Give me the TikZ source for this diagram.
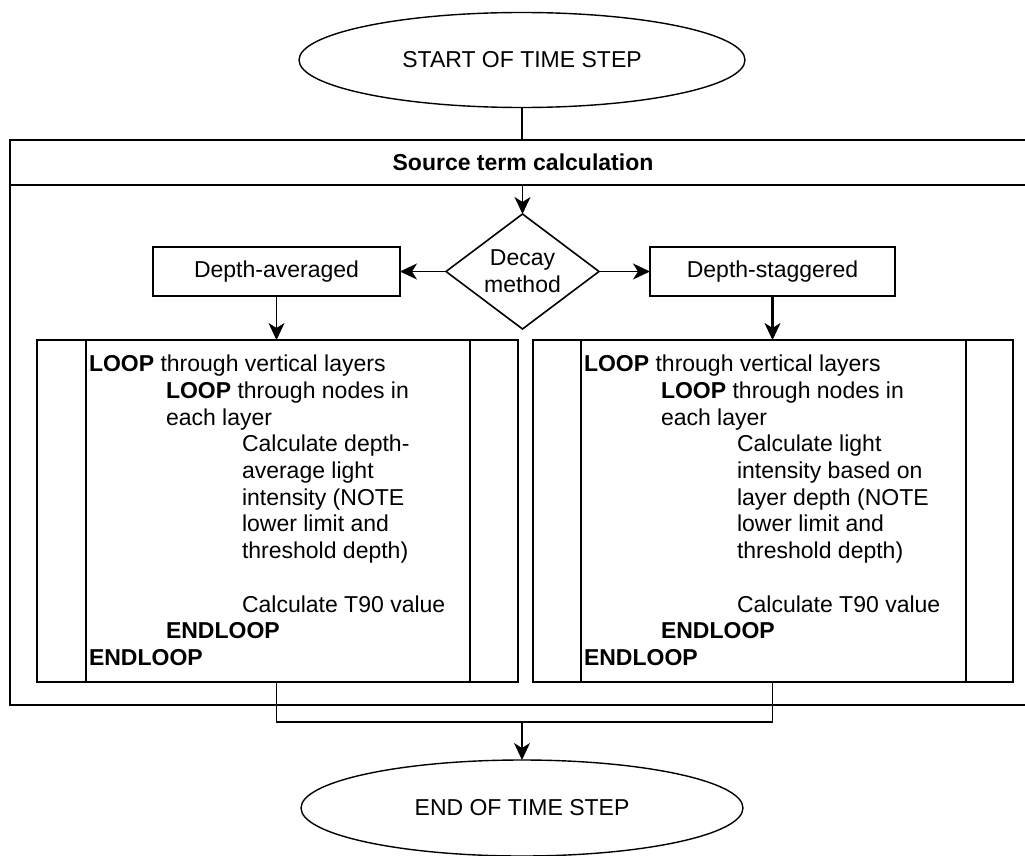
\documentclass[tikz,border=0pt]{standalone}
\usepackage{fontspec}
\setmainfont{Liberation Sans}
\usetikzlibrary{shapes.geometric,arrows.meta}

\tikzset{
  every node/.style={inner sep=0pt, outer sep=0pt},
  box/.style={draw, line width=1.8pt, rectangle, font=\fontsize{23}{27}\selectfont},
  term/.style={draw, line width=1.4pt, ellipse, font=\fontsize{23}{27}\selectfont},
  decision/.style={draw, line width=1.6pt, diamond, aspect=1.33, align=center,
    font=\fontsize{23}{27}\selectfont},
  link/.style={line width=1.5pt},
  arr/.style={link, -{Stealth[length=17pt,width=16pt,inset=5pt]}},
  looptext/.style={anchor=base west, font=\fontsize{23}{26.7}\selectfont},
}
\newcommand{\lvA}{\hspace*{0pt}}
\newcommand{\lvB}{\hspace*{77pt}}
\newcommand{\lvC}{\hspace*{153pt}}

\begin{document}
\begin{tikzpicture}[x=1pt, y=-1pt]
\useasboundingbox (0,0) rectangle (1025,856);

% terminals
\node[term, minimum width=446pt, minimum height=95pt] (start) at (522,60) {START OF TIME STEP};
\node[term, minimum width=442pt, minimum height=96pt] (stop) at (522,808) {END OF TIME STEP};

% container with its header (right side runs past the page edge)
\node[box, minimum width=1026pt, minimum height=565pt] (frame) at (523,422.5) {};
\node[box, minimum width=1026pt, minimum height=45pt, font=\bfseries\fontsize{23}{27}\selectfont]
  (header) at (523,162.5) {Source term calculation};

% decision and its two branches
\node[decision, minimum width=153pt, minimum height=115pt] (decay) at (522.5,271.5) {Decay\\method};
\node[box, minimum width=247pt, minimum height=49pt] (avg) at (276.5,271.5) {Depth-averaged};
\node[box, minimum width=245pt, minimum height=49pt] (stag) at (772.5,271.5) {Depth-staggered};

% predefined-process boxes
\node[box, minimum width=481pt, minimum height=342pt] (loopA) at (277.5,511) {};
\node[box, minimum width=480pt, minimum height=342pt] (loopB) at (773,511) {};
\draw[line width=1.5pt] (86,340) -- (86,682) (470,340) -- (470,682);
\draw[line width=1.5pt] (581,340) -- (581,682) (966,340) -- (966,682);

\node[looptext] (textA) at (89,371.7) {\parbox[t]{380pt}{\raggedright
\lvA\textbf{LOOP} through vertical layers\\
\lvB\textbf{LOOP} through nodes in\\
\lvB each layer\\
\lvC Calculate depth-\\
\lvC average light\\
\lvC intensity (NOTE\\
\lvC lower limit and\\
\lvC threshold depth)\\
\mbox{}\\
\lvC Calculate T90 value\\
\lvB\textbf{ENDLOOP}\\
\lvA\textbf{ENDLOOP}}};

\node[looptext] (textB) at (584,371.7) {\parbox[t]{380pt}{\raggedright
\lvA\textbf{LOOP} through vertical layers\\
\lvB\textbf{LOOP} through nodes in\\
\lvB each layer\\
\lvC Calculate light\\
\lvC intensity based on\\
\lvC layer depth (NOTE\\
\lvC lower limit and\\
\lvC threshold depth)\\
\mbox{}\\
\lvC Calculate T90 value\\
\lvB\textbf{ENDLOOP}\\
\lvA\textbf{ENDLOOP}}};

% connectors
\draw[link] (start.south) -- (header.north -| start.south);
\draw[arr] (header.south -| decay.north) -- (decay.north);
\draw[arr] (decay.west) -- (avg.east);
\draw[arr] (decay.east) -- (stag.west);
\draw[arr] (avg.south) -- (avg.south |- loopA.north);
\draw[arr, line width=2.2pt] (stag.south) -- (stag.south |- loopB.north);
\draw[link] (avg.south |- loopA.south) -- ++(0,40) coordinate (joinL)
  -| (stag.south |- loopB.south);
\coordinate (join) at (joinL -| stop.north);
\draw[arr] (join) -- (stop.north);
\end{tikzpicture}
\end{document}
